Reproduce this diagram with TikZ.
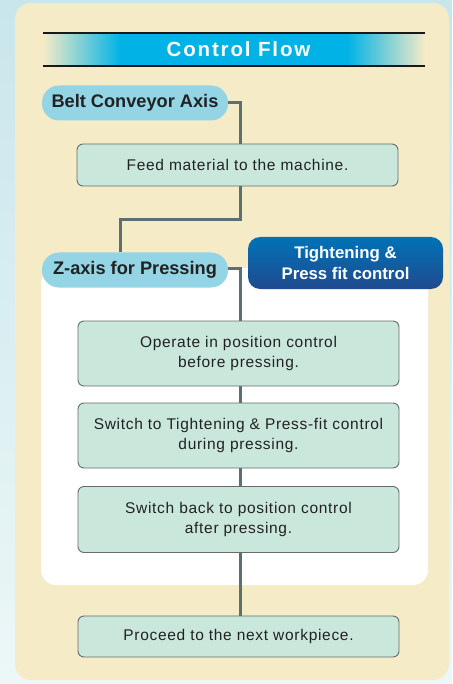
\documentclass[tikz,border=0pt]{standalone}
\usepackage{fontspec}
\setmainfont{Liberation Sans}
\newfontfamily\boxfont[LetterSpace=4.5]{Liberation Sans}
\newfontfamily\headfont[LetterSpace=9]{Liberation Sans}
\definecolor{skybg}{HTML}{C8E6EC}
\definecolor{skybglow}{HTML}{EDF7F8}
\definecolor{panel}{HTML}{F5EBC7}
\definecolor{bandcyan}{HTML}{00B2E5}
\definecolor{pill}{HTML}{93D5E5}
\definecolor{stepfill}{HTML}{CAE7DC}
\definecolor{stepedge}{HTML}{666C6C}
\definecolor{wire}{HTML}{5E6E73}
\definecolor{tighttop}{HTML}{0073B6}
\definecolor{tightbot}{HTML}{214A8F}
\definecolor{ink}{HTML}{222222}
\tikzset{
  pillbox/.style={fill=pill, rounded corners=17pt, minimum width=186pt,
    minimum height=35pt, inner sep=0pt, text=ink,
    font=\fontsize{18.2}{20}\selectfont\bfseries},
  stepbox/.style={fill=stepfill, draw=stepedge, line width=0.9pt,
    rounded corners=6pt, minimum width=321pt, inner sep=0pt, align=center,
    text=ink, font=\boxfont\fontsize{15.5}{20.5}\selectfont},
  wireline/.style={draw=wire, line width=3pt, line join=miter},
}
\begin{document}
\begin{tikzpicture}[x=1pt,y=-1pt]
\useasboundingbox (0,0) rectangle (452,684);
% backdrop and cream panel
\shade[top color=skybg, bottom color=skybglow] (0,0) rectangle (452,684);
\fill[panel, rounded corners=16pt] (15,3) rectangle (449,680);
% white area behind the pressing steps
\fill[white, rounded corners=15pt] (41,268) rectangle (428,585);

% title band
\shade[left color=panel, right color=bandcyan] (43,34) rectangle (121,65);
\fill[bandcyan] (120,34) rectangle (348,65);
\shade[left color=bandcyan, right color=panel] (347,34) rectangle (425,65);
\draw[line width=1.6pt, black!90] (43,33) -- (425,33);
\draw[line width=1.6pt, black!90] (43,66) -- (425,66);
\node[text=white, font=\headfont\fontsize{20.5}{22}\selectfont\bfseries] (title) at (238.5,49.5) {Control Flow};

% axis labels
\node[pillbox] (belt) at (135,103) {Belt Conveyor Axis};
\node[pillbox] (zaxis) at (135,270) {Z-axis for Pressing};
\node[top color=tighttop, bottom color=tightbot, rounded corners=12pt,
  minimum width=195pt, minimum height=52pt, inner sep=0pt, align=center,
  text=white, font=\fontsize{16.8}{21}\selectfont\bfseries] (tight) at (345.5,263)
  {Tightening \&\\Press fit control};

% process steps
\node[stepbox, minimum height=42pt] (feed) at (237.5,165) {Feed material to the machine.};
\node[stepbox, minimum height=65pt] (pos) at (238.5,353.5) {Operate in position control\\before pressing.};
\node[stepbox, minimum height=65pt] (press) at (238.5,435.5) {Switch to Tightening \& Press-fit control\\during pressing.};
\node[stepbox, minimum height=66pt] (back) at (238.5,519.5) {Switch back to position control\\after pressing.};
\node[stepbox, minimum height=41pt] (next) at (238.5,636.5) {Proceed to the next workpiece.};

% connectors along the vertical spine
\coordinate (spine) at (240,0);
\coordinate (jog) at (120,220);
\path[wireline] (belt.east) -| (spine |- feed.north);
\path[wireline] (spine |- feed.south) |- (jog) -- (jog |- zaxis.north);
\path[wireline] ([yshift=1.5pt]zaxis.east) -| (spine |- pos.north);
\path[wireline] (spine |- pos.south) -- (spine |- press.north);
\path[wireline] (spine |- press.south) -- (spine |- back.north);
\path[wireline] (spine |- back.south) -- (spine |- next.north);
\end{tikzpicture}
\end{document}
